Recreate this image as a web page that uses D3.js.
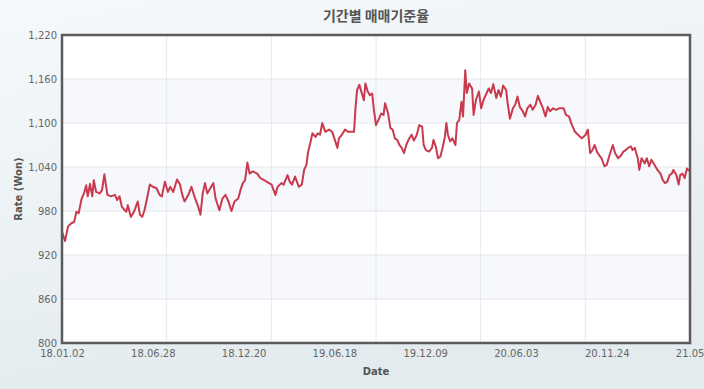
<!DOCTYPE html>
<html>
<head>
<meta charset="utf-8">
<script src="https://cdn.jsdelivr.net/npm/d3@7/dist/d3.min.js"></script>
<style>
  html, body { margin: 0; padding: 0; }
  body { width: 704px; height: 389px; overflow: hidden; }
  svg { display: block; }
</style>
</head>
<body>
<svg id="chart" width="704" height="389"></svg>
<script>
// ---- data (trading-day index from 2018-01-02, KRW rate) ----
const tradingDay = [0,4,8,12,16,19,22,26,29,32,34,37,40,42,45,50,53,56,60,65,70,73,76,79,83,85,87,91,94,96,100,103,106,109,113,116,120,125,129,132,136,140,143,147,152,156,159,162,167,171,175,180,183,186,189,192,196,200,203,208,212,216,220,224,228,233,236,239,242,245,248,252,258,262,267,272,277,282,285,290,293,298,301,304,308,313,317,320,323,325,328,331,335,338,341,344,348,353,357,360,364,366,370,374,378,382,386,388,390,393,397,399,401,404,407,410,412,415,419,422,425,427,431,434,437,440,443,446,449,452,455,458,462,465,469,472,476,478,481,485,489,491,494,497,500,503,506,508,510,513,516,520,522,525,528,530,533,535,538,542,544,547,551,554,557,560,564,567,570,574,577,580,583,587,589,592,596,599,602,605,609,612,615,619,622,626,629,632,635,639,642,645,649,653,657,663,666,670,674,678,683,687,692,695,698,701,704,707,710,713,717,720,723,728,731,735,739,742,745,748,752,754,757,761,763,766,770,773,776,779,783,787,791,794,797,800,803,806,808,812,815,817,820,823,826,830];
const rate = [952,939,959,963,965,979,977,997,1004,1015,1000,1017,1000,1022,1006,1004,1009,1030,1002,1000,1002,995,1000,986,981,979,988,972,977,981,993,975,972,981,1000,1016,1013,1011,1002,1000,1020,1006,1013,1006,1023,1016,1002,993,1002,1013,1000,986,975,1004,1018,1004,1011,1018,997,981,997,1002,993,980,993,997,1009,1018,1022,1046,1031,1034,1031,1025,1022,1019,1016,1002,1013,1018,1016,1029,1020,1016,1027,1013,1016,1036,1043,1059,1072,1086,1081,1086,1084,1100,1088,1091,1088,1079,1066,1079,1084,1091,1088,1088,1088,1122,1145,1152,1138,1131,1154,1143,1138,1140,1120,1097,1106,1113,1111,1127,1113,1093,1091,1079,1077,1070,1066,1059,1070,1077,1084,1076,1084,1097,1095,1070,1063,1061,1066,1077,1068,1052,1054,1066,1081,1100,1084,1075,1079,1070,1100,1104,1129,1109,1172,1141,1154,1147,1111,1131,1143,1120,1131,1138,1147,1141,1153,1134,1145,1136,1151,1145,1127,1106,1120,1125,1136,1122,1116,1109,1120,1125,1118,1125,1137,1129,1122,1109,1122,1116,1120,1118,1120,1120,1111,1109,1097,1088,1083,1079,1084,1091,1059,1063,1070,1061,1056,1052,1041,1043,1054,1070,1059,1052,1056,1061,1063,1066,1068,1063,1066,1052,1036,1052,1045,1052,1041,1050,1043,1036,1031,1022,1018,1020,1029,1031,1036,1029,1016,1029,1031,1025,1038,1034,1034];
const xTickDays = [0,120,240,360,480,600,720,840];
const xTickLabels = ["18.01.02","18.06.28","18.12.20","19.06.18","19.12.09","20.06.03","20.11.24","21.05.18"];
const yTicks = [800,860,920,980,1040,1100,1160,1220];
const dayDomain = [0, 830];
const gridDays = [0,138.33,276.67,415,553.33,691.67,830];

const W = 704, H = 389;
const margin = {top: 35, right: 14, bottom: 46, left: 62};
const iw = W - margin.left - margin.right;
const ih = H - margin.top - margin.bottom;

const svg = d3.select("#chart");
const defs = svg.append("defs");
const grad = defs.append("linearGradient").attr("id","bg")
  .attr("x1","0").attr("y1","0").attr("x2","0.35").attr("y2","1");
grad.append("stop").attr("offset","0%").attr("stop-color","#f6f9fb");
grad.append("stop").attr("offset","100%").attr("stop-color","#e3ebef");
svg.append("rect").attr("width",W).attr("height",H).attr("fill","url(#bg)");

const x = d3.scaleLinear().domain(dayDomain).range([0, iw]);
const y = d3.scaleLinear().domain([800,1220]).range([ih, 0]);

const g = svg.append("g").attr("transform",`translate(${margin.left},${margin.top})`);
g.append("rect").attr("width",iw).attr("height",ih).attr("fill","#ffffff");

// alternating bands
const bands = d3.pairs(yTicks).filter((d,i) => i % 2 === 1);
g.selectAll(".band").data(bands).join("rect")
  .attr("x",0).attr("width",iw)
  .attr("y",d => y(d[1])).attr("height",d => y(d[0]) - y(d[1]))
  .attr("fill","#f7f8fc");

// gridlines
g.selectAll(".hg").data(yTicks).join("line")
  .attr("x1",0).attr("x2",iw).attr("y1",d=>y(d)).attr("y2",d=>y(d))
  .attr("stroke","#e4e8ee").attr("stroke-width",1);
g.selectAll(".vg").data(gridDays).join("line")
  .attr("y1",0).attr("y2",ih).attr("x1",d=>x(d)).attr("x2",d=>x(d))
  .attr("stroke","#e4e8ee").attr("stroke-width",1);

// line
const line = d3.line().x((d,i)=>x(tradingDay[i])).y(d=>y(d));
g.append("path").datum(rate).attr("d",line)
  .attr("fill","none").attr("stroke","#c83a4d").attr("stroke-width",2)
  .attr("stroke-linejoin","round");

// frame
g.append("rect").attr("width",iw).attr("height",ih)
  .attr("fill","none").attr("stroke","#5b5b5b").attr("stroke-width",2.5);

// axes
const font = "'DejaVu Sans', Verdana, sans-serif";
const yAxis = d3.axisLeft(y).tickValues(yTicks).tickSize(0).tickPadding(5).tickFormat(d3.format(","));
const ya = g.append("g").call(yAxis);
ya.select(".domain").remove();
ya.selectAll("text").attr("font-family",font).attr("font-size",10).attr("fill","#666");

const xAxis = d3.axisBottom(x).tickValues(xTickDays).tickSize(0).tickPadding(7)
  .tickFormat((d,i)=>xTickLabels[i]);
const xa = g.append("g").attr("transform",`translate(0,${ih})`).call(xAxis);
xa.select(".domain").remove();
xa.selectAll("text").attr("font-family",font).attr("font-size",10).attr("fill","#666");

// titles
svg.append("text").attr("x", margin.left + iw/2).attr("y", 21)
  .attr("text-anchor","middle").attr("font-family","'Noto Sans CJK KR', sans-serif")
  .attr("font-weight","bold").attr("font-size",14).attr("fill","#555")
  .text("기간별 매매기준율");
svg.append("text").attr("x", margin.left + iw/2).attr("y", 375)
  .attr("text-anchor","middle").attr("font-family",font)
  .attr("font-weight","bold").attr("font-size",10).attr("fill","#555")
  .text("Date");
svg.append("text").attr("transform",`translate(22,${margin.top + ih/2}) rotate(-90)`)
  .attr("text-anchor","middle").attr("font-family",font)
  .attr("font-weight","bold").attr("font-size",10).attr("fill","#555")
  .text("Rate (Won)");
</script>
</body>
</html>
